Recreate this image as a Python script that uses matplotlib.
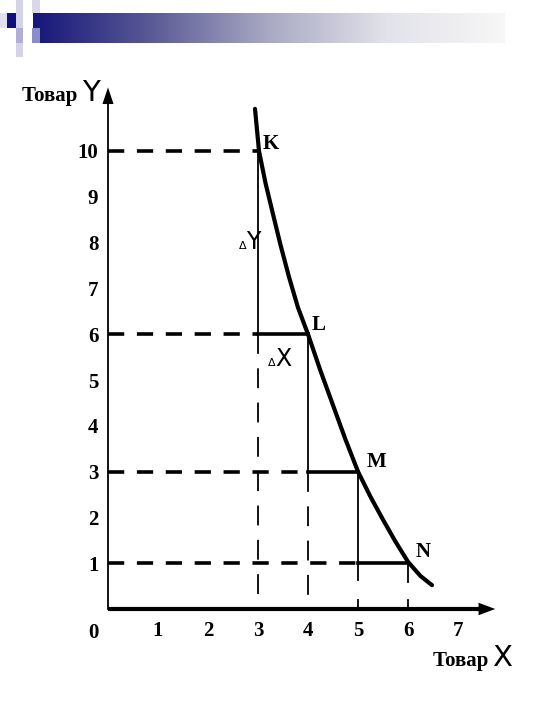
import numpy as np
import matplotlib.pyplot as plt
from matplotlib.colors import LinearSegmentedColormap
from matplotlib.patches import Rectangle

# curve (Товар X, Товар Y)
curve_x = [2.94, 3.02, 3.15, 3.3, 3.45, 3.62, 3.8, 4.0, 4.25, 4.5, 4.75,
           5.0, 5.25, 5.5, 5.75, 6.0, 6.25, 6.48]
curve_y = [10.92, 10.0, 9.3, 8.62, 7.95, 7.25, 6.58, 6.0, 5.2, 4.45, 3.7,
           3.0, 2.45, 1.95, 1.47, 1.03, 0.72, 0.52]

# points K, L, M, N
pt_names = ["K", "L", "M", "N"]
pt_x = [3, 4, 5, 6]
pt_y = [10, 6, 3, 1]

x_ticks = [1, 2, 3, 4, 5, 6, 7]
y_ticks = [1, 2, 3, 4, 5, 6, 7, 8, 9, 10]

serif = ["Liberation Serif", "DejaVu Serif"]
narrow = ["Liberation Sans Narrow", "DejaVu Sans"]

fig = plt.figure(figsize=(5.4, 7.2), dpi=100)

# slide banner
bg = fig.add_axes([0, 0, 1, 1])
bg.set_xlim(0, 540)
bg.set_ylim(720, 0)
bg.axis("off")
cmap = LinearSegmentedColormap.from_list("band", ["#16167a", "#5a5a96", "#a9a9c4", "#e2e2ea", "#f7f7f7"])
bg.imshow(np.linspace(0, 1, 256).reshape(1, -1), cmap=cmap, aspect="auto",
          extent=(33, 505, 43, 13), zorder=1)
for (rx, ry, rw, rh, c) in [(7, 13, 9, 15, "#10107a"), (16, 0, 7, 57, "#d4d4e6"),
                            (0, 13, 7, 15, "#e0e0ee"), (32, 0, 8, 13, "#d8d8e8"),
                            (32, 28, 8, 15, "#8c8cc6"), (16, 28, 7, 15, "#b0b0d6")]:
    bg.add_patch(Rectangle((rx, ry), rw, rh, color=c, zorder=2, lw=0))

ax = fig.add_axes([108 / 540, 111 / 720, 425 / 540, 549.6 / 720])
ax.set_xlim(0, 8.5)
ax.set_ylim(0, 12)
ax.patch.set_alpha(0)
for s in ax.spines.values():
    s.set_visible(False)

# axes with arrows
ax.plot([0, 7.6], [0, 0], color="black", lw=3.0, solid_capstyle="butt", clip_on=False)
ax.plot([0, 0], [0, 11.3], color="black", lw=1.3, clip_on=False)
ax.annotate("", xy=(7.8, 0), xytext=(7.35, 0), annotation_clip=False,
            arrowprops=dict(arrowstyle="-|>,head_length=1.2,head_width=0.45", color="black", lw=0))
ax.annotate("", xy=(0, 11.45), xytext=(0, 10.9), annotation_clip=False,
            arrowprops=dict(arrowstyle="-|>,head_length=1.2,head_width=0.4", color="black", lw=0))

dash_h = dict(color="black", lw=2.6, linestyle=(0, (4.5, 3.5)))
dash_v = dict(color="black", lw=1.3, linestyle=(0, (11, 8)))
thin = dict(color="black", lw=1.3)
thick = dict(color="black", lw=2.6)

# horizontal dashed guides and steps
ax.plot([0, pt_x[0]], [pt_y[0], pt_y[0]], **dash_h)
for i in range(1, 4):
    ax.plot([0, pt_x[i - 1]], [pt_y[i], pt_y[i]], **dash_h)
    ax.plot([pt_x[i - 1], pt_x[i]], [pt_y[i], pt_y[i]], **thick)

# vertical guides
ax.plot([3, 3], [10, 6], **thin)
ax.plot([3, 3], [6, 0], **dash_v)
ax.plot([4, 4], [6, 3], **thin)
ax.plot([4, 4], [3, 0], **dash_v)
ax.plot([5, 5], [3, 0.63], **thin)
ax.plot([5, 5], [0.2, 0], **thin)
ax.plot([6, 6], [1, 0.6], **thin)
ax.plot([6, 6], [0.2, 0], **thin)

# the curve
ax.plot(curve_x, curve_y, color="black", lw=3, solid_capstyle="round", solid_joinstyle="round")

# point labels
offs = [(0.1, 0.15), (0.08, 0.2), (0.18, 0.2), (0.15, 0.25)]
for n, x, y, (dx, dy) in zip(pt_names, pt_x, pt_y, offs):
    ax.text(x + dx, y + dy, n, family=serif, fontweight="bold", fontsize=15, va="center", ha="left")

ax.text(2.62, 7.85, "Δ", family=narrow, fontsize=8, va="baseline", ha="left")
ax.text(2.76, 7.85, "Y", family=narrow, fontsize=17, va="baseline", ha="left")
ax.text(3.2, 5.3, "Δ", family=narrow, fontsize=8, va="baseline", ha="left")
ax.text(3.35, 5.3, "X", family=narrow, fontsize=17, va="baseline", ha="left")

# ticks
ax.set_xticks(x_ticks)
ax.set_xticklabels([str(v) for v in x_ticks], family=serif, fontweight="bold", fontsize=15)
ax.set_yticks(y_ticks)
ax.set_yticklabels([str(v) for v in y_ticks], family=serif, fontweight="bold", fontsize=15)
ax.tick_params(axis="x", length=0, pad=9)
ax.tick_params(axis="y", length=0, pad=7)
ax.text(-0.3, -0.3, "0", family=serif, fontweight="bold", fontsize=15, ha="center", va="top")

# axis titles
ax.text(-0.6, 11.1, "Товар", family=serif, fontweight="bold", fontsize=15, ha="right", va="baseline")
ax.text(-0.52, 11.1, "Y", family=narrow, fontsize=21, ha="left", va="baseline")
ax.text(6.5, -1.24, "Товар", family=serif, fontweight="bold", fontsize=15, ha="left", va="baseline")
ax.text(7.68, -1.24, "X", family=narrow, fontsize=21, ha="left", va="baseline")

fig.savefig("out.png", dpi=100)
